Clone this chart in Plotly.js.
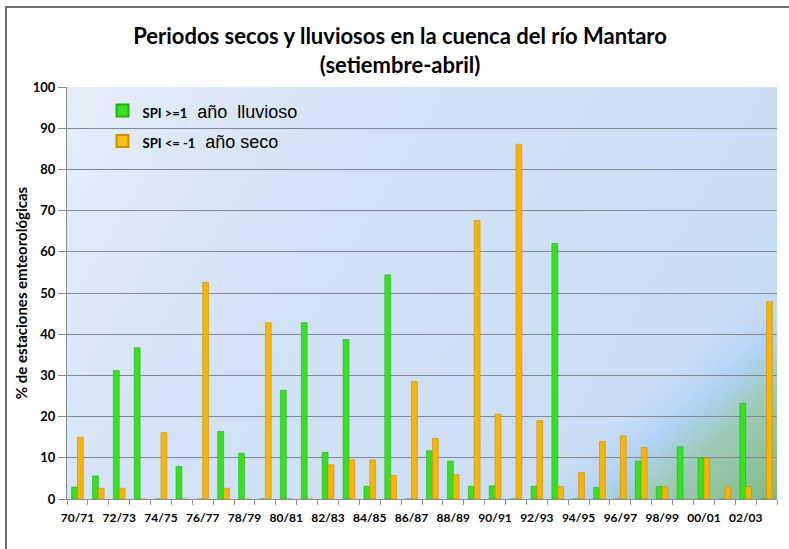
<!DOCTYPE html>
<html>
<head>
<meta charset="utf-8">
<script src="https://cdn.plot.ly/plotly-3.0.1.min.js"></script>
<style>
  html, body { margin: 0; padding: 0; background: #ffffff; }
  #wrap { position: relative; width: 789px; height: 549px; }
  #chart { width: 789px; height: 549px; }
  #frame { position: absolute; left: 5px; top: 6px; width: 800px; height: 600px;
           border-top: 2px solid #6e6e6e; border-left: 2px solid #6e6e6e;
           pointer-events: none; box-sizing: border-box; }
</style>
</head>
<body>
<div id="wrap">
  <div id="chart"></div>
  <div id="frame"></div>
</div>
<script>
// ---- Data ----
const seasons = ["70/71","71/72","72/73","73/74","74/75","75/76","76/77","77/78","78/79","79/80",
                 "80/81","81/82","82/83","83/84","84/85","85/86","86/87","87/88","88/89","89/90",
                 "90/91","91/92","92/93","93/94","94/95","95/96","96/97","97/98","98/99","99/00",
                 "00/01","01/02","02/03","03/04"];
const tickLabels = ["70/71","","72/73","","74/75","","76/77","","78/79","",
                    "80/81","","82/83","","84/85","","86/87","","88/89","",
                    "90/91","","92/93","","94/95","","96/97","","98/99","",
                    "00/01","","02/03",""];
const wetPct = [2.9, 5.6, 31.2, 36.7, 0, 7.9, 0, 16.4, 11.1, 0,
                26.4, 42.8, 11.3, 38.7, 3.1, 54.4, 0, 11.7, 9.2, 3.1,
                3.2, 0, 3.1, 62.0, 0, 2.8, 0, 9.2, 3.0, 12.7,
                10.0, 0, 23.2, 0];
const dryPct = [15.0, 2.6, 2.6, 0, 16.1, 0, 52.6, 2.6, 0, 42.8,
                0, 0, 8.3, 9.5, 9.5, 5.7, 28.5, 14.7, 5.9, 67.6,
                20.6, 86.1, 19.0, 3.0, 6.4, 14.0, 15.3, 12.5, 3.0, 0,
                10.0, 3.0, 3.0, 47.9];
const yTicks = [0,10,20,30,40,50,60,70,80,90,100];
const wetLabel = '<b><span style="font-family:Lato;font-size:13px">SPI >=1</span></b>  año  lluvioso';
const dryLabel = '<b><span style="font-family:Lato;font-size:13px">SPI <= -1</span></b>  año seco';

// ---- Background gradient for plot area ----
function makeBg() {
  const w = 710, h = 412;
  const c = document.createElement('canvas');
  c.width = w; c.height = h;
  const ctx = c.getContext('2d');
  const g = ctx.createLinearGradient(0, 0, w, h);
  g.addColorStop(0.00, '#e6eef8');
  g.addColorStop(0.30, '#d4e3f6');
  g.addColorStop(1.00, '#c6dbf5');
  ctx.fillStyle = g;
  ctx.fillRect(0, 0, w, h);
  const g2 = ctx.createLinearGradient(0, 0, 509.7, 586.6);
  g2.addColorStop(0.00, 'rgba(190,215,245,0)');
  g2.addColorStop(0.78, 'rgba(190,215,245,0)');
  g2.addColorStop(0.84, 'rgba(170,208,245,0.8)');
  g2.addColorStop(0.89, 'rgba(150,200,175,0.85)');
  g2.addColorStop(1.00, 'rgba(128,184,132,1)');
  ctx.fillStyle = g2;
  ctx.fillRect(0, 0, w, h);
  return c.toDataURL('image/png');
}

const traces = [
  {
    type: 'bar', x: seasons, y: wetPct, name: 'wet', showlegend: false,
    marker: { color: '#38e024', line: { color: '#22b014', width: 0.6 } }
  },
  {
    type: 'bar', x: seasons, y: dryPct, name: 'dry', showlegend: false,
    marker: { color: '#f5b40a', line: { color: '#d08f00', width: 0.6 } }
  },
  {
    type: 'scatter', mode: 'markers', x: [seasons[0]], y: [null],
    name: wetLabel, legendgroup: 'wet', showlegend: true,
    marker: { symbol: 'square', size: 8, color: '#38e024', line: { color: '#22b014', width: 0.6 } }
  },
  {
    type: 'scatter', mode: 'markers', x: [seasons[0]], y: [null],
    name: dryLabel, legendgroup: 'dry', showlegend: true,
    marker: { symbol: 'square', size: 8, color: '#f5c21a', line: { color: '#d08f00', width: 0.6 } }
  }
];

const layout = {
  width: 789, height: 549,
  margin: { l: 67, r: 12, t: 87, b: 50 },
  paper_bgcolor: '#ffffff',
  plot_bgcolor: 'rgba(0,0,0,0)',
  barmode: 'group',
  bargap: 0.44,
  bargroupgap: 0,
  title: {
    text: 'Periodos secos y lluviosos en la cuenca del río Mantaro<br>(setiembre-abril)',
    font: { family: 'Lato', size: 22, color: '#000000', weight: 'bold' },
    xref: 'container', x: 0.507, xanchor: 'center',
    yref: 'container', y: 0.92, yanchor: 'top'
  },
  showlegend: true,
  legend: {
    x: 0.05, y: 0.987, xanchor: 'left', yanchor: 'top',
    bgcolor: 'rgba(0,0,0,0)',
    font: { family: 'Liberation Sans', size: 18, color: '#000000' },
    traceorder: 'grouped',
    tracegroupgap: 4,
    itemsizing: 'constant'
  },
  xaxis: {
    type: 'category',
    range: [-0.5, seasons.length - 0.5],
    autorange: false,
    tickmode: 'array',
    tickvals: seasons,
    ticktext: tickLabels,
    tickson: 'boundaries',
    ticks: 'outside', ticklen: 5, tickcolor: '#8a8f96', tickwidth: 1,
    showgrid: false,
    showline: true, linecolor: '#8a8f96', linewidth: 1,
    tickfont: { family: 'Lato', size: 12, color: '#000000', weight: 'bold' },
    ticklabelstandoff: 8,
    tickangle: 0
  },
  yaxis: {
    range: [0, 100],
    autorange: false,
    tickmode: 'array', tickvals: yTicks,
    ticks: 'outside', ticklen: 8, tickcolor: '#8a8f96',
    showgrid: true, gridcolor: '#7f8894', gridwidth: 1,
    showline: true, linecolor: '#8a8f96', linewidth: 1,
    zeroline: false,
    tickfont: { family: 'Lato', size: 13, color: '#000000', weight: 'bold' },
    title: {
      text: '% de estaciones emteorológicas',
      font: { family: 'Lato', size: 15, color: '#000000', weight: 'bold' },
      standoff: 1
    }
  },
  images: [{
    source: makeBg(), xref: 'paper', yref: 'paper',
    x: 0, y: 1, sizex: 1, sizey: 1, sizing: 'stretch',
    xanchor: 'left', yanchor: 'top', layer: 'below'
  }]
};

Plotly.newPlot('chart', traces, layout, { displayModeBar: false, staticPlot: true });
</script>
</body>
</html>
